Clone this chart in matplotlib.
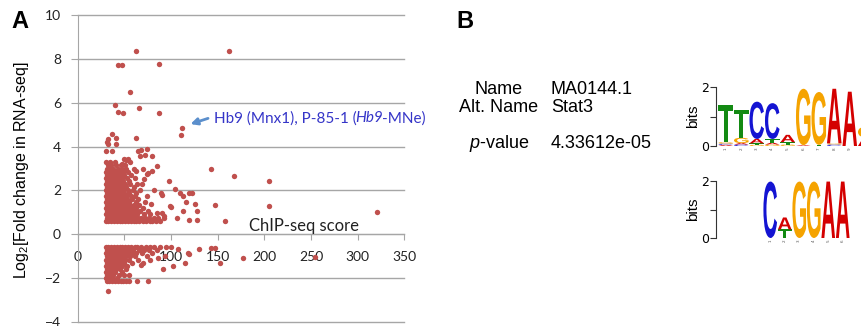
import numpy as np
import matplotlib.pyplot as plt
from matplotlib.textpath import TextPath
from matplotlib.patches import PathPatch
from matplotlib.font_manager import FontProperties
from matplotlib.transforms import Affine2D

plt.rcParams['mathtext.fontset'] = 'custom'
plt.rcParams['mathtext.rm'] = 'Liberation Sans'
plt.rcParams['mathtext.it'] = 'Liberation Sans:italic'

# ---- panel A data (ChIP-seq score, log2 fold change) ----
up_sparse = [(63, 8.35), (162.5, 8.35), (43, 7.74), (48, 7.74), (87.5, 7.76), (56, 6.49),
             (39.6, 5.88), (43.6, 5.59), (48.2, 5.52), (65.4, 5.76), (87.5, 5.52), (112, 4.83),
             (111, 4.51), (36.8, 4.57), (32, 4.35), (31, 4.2), (32, 4.1), (41, 4.4), (41.5, 4.1),
             (62, 4.4), (30.4, 3.81), (36.8, 3.78), (65, 3.81), (68, 3.83), (74, 3.87), (72.5, 3.6),
             (80, 3.58), (66.4, 3.57), (49.6, 3.43), (51.5, 3.4), (54, 3.42), (47, 3.2), (85, 3.1),
             (80, 2.87), (74.6, 2.77), (142.5, 2.96), (168, 2.68), (204.6, 2.42), (97.5, 2.42),
             (104, 2.06), (109.6, 1.9), (112.5, 1.75), (119, 1.87), (122.5, 1.87), (81.8, 2.03),
             (89, 1.9), (125.4, 1.4), (116, 1.46), (146.8, 1.31), (204.6, 1.27), (321, 1.0),
             (157.5, 0.59), (128.2, 1.08), (128, 0.64), (119, 0.64), (112.5, 1.07), (106.8, 0.73),
             (99, 1.27), (100.5, 1.22), (68.6, 2.27), (75.7, 2.8), (74, 1.74), (90, 1.78), (79, 1.37),
             (84.6, 0.95), (90, 0.98), (92, 0.85), (71, 2.5), (70, 3.0), (63, 2.9)]

up_rows_y = [0.62, 0.76, 0.90, 1.04, 1.18, 1.32, 1.46, 1.60, 1.74, 1.88,
             2.02, 2.16, 2.30, 2.44, 2.58, 2.72, 2.86, 3.00, 3.16, 3.30]
up_rows_x = [
    [30, 33, 36, 39, 42, 45, 48, 51, 54, 57, 60, 63, 66, 70, 73, 77, 80, 84, 88],
    [31, 34, 37, 40, 43, 46, 49, 52, 55, 58, 61, 65, 68, 72, 76, 82, 86, 92],
    [30, 33, 36, 39, 42, 45, 48, 51, 54, 57, 60, 64, 71, 78],
    [31, 34, 37, 40, 43, 46, 49, 52, 55, 59, 62, 67, 75],
    [30, 33, 36, 39, 42, 45, 48, 51, 54, 58, 63, 70],
    [31, 34, 37, 40, 43, 46, 49, 52, 56, 60, 66],
    [30, 33, 36, 39, 42, 45, 48, 51, 55, 62, 72],
    [31, 34, 37, 40, 43, 46, 49, 53, 58, 65],
    [30, 33, 36, 39, 42, 45, 48, 52, 57, 61],
    [31, 34, 37, 40, 43, 46, 50, 55, 63],
    [30, 33, 36, 39, 42, 45, 49, 54, 59, 67],
    [31, 34, 37, 40, 43, 47, 52, 60],
    [30, 33, 36, 39, 42, 46, 51, 56, 64],
    [31, 34, 37, 40, 44, 49, 55],
    [30, 33, 36, 39, 42, 47, 53, 61],
    [31, 34, 37, 41, 45, 50, 57],
    [30, 33, 37, 40, 44, 49, 54],
    [31, 35, 38, 43, 48, 52, 60],
    [32, 36, 41, 46, 51],
    [30, 35, 40, 56],
]

down_sparse = [(32, -2.6), (91.8, -1.57), (102.5, -1.45), (115, -1.31), (119, -0.91),
               (129.6, -0.69), (142.5, -0.62), (146.8, -0.62), (153, -1.3), (177.5, -1.1),
               (254.6, -1.04), (107.5, -0.69), (118, -0.85), (93.5, -1.0), (86, -1.1),
               (78, -1.2), (68, -1.4)]

down_rows_y = [-0.60, -0.74, -0.88, -1.02, -1.16, -1.30, -1.44, -1.58, -1.72, -1.86, -2.00, -2.14]
down_rows_x = [
    [30, 33, 36, 39, 42, 45, 48, 51, 54, 57, 61, 64, 68, 73, 78, 82, 88, 95, 100],
    [31, 34, 37, 40, 43, 46, 49, 52, 55, 59, 66, 71, 76, 85],
    [30, 33, 36, 39, 42, 45, 48, 51, 54, 58, 63, 69, 80],
    [31, 34, 37, 40, 43, 46, 49, 52, 56, 61, 74],
    [30, 33, 36, 39, 42, 45, 48, 51, 55, 65],
    [31, 34, 37, 40, 43, 46, 50, 58, 70],
    [30, 33, 36, 39, 42, 47, 53],
    [31, 34, 37, 41, 45, 52],
    [30, 33, 36, 40, 48],
    [31, 34, 38, 44, 50, 55],
    [30, 33, 37, 42],
    [31, 34, 37, 40, 43, 46, 49, 52, 55, 64, 75],
]

xticks = [0, 50, 100, 150, 200, 250, 300, 350]
yticks = [-4, -2, 0, 2, 4, 6, 8, 10]

# ---- panel B data (sequence logos, bits per letter, stacked bottom -> top) ----
logo1 = [
    [('A', 0.04), ('C', 0.04), ('G', 0.05), ('T', 1.28)],
    [('C', 0.05), ('A', 0.05), ('G', 0.18), ('T', 0.95)],
    [('G', 0.04), ('T', 0.05), ('A', 0.15), ('C', 1.27)],
    [('G', 0.05), ('A', 0.06), ('T', 0.13), ('C', 1.22)],
    [('G', 0.05), ('T', 0.08), ('A', 0.25)],
    [('A', 0.03), ('G', 1.92)],
    [('T', 0.04), ('G', 1.80)],
    [('C', 0.05), ('G', 0.04), ('A', 1.86)],
    [('A', 1.85)],
    [('A', 0.30), ('G', 0.35)],
]
logo2 = [
    [('C', 1.98)],
    [('T', 0.30), ('A', 0.42)],
    [('G', 1.98)],
    [('G', 1.98)],
    [('A', 1.98)],
    [('A', 1.98)],
]
base_colors = {'A': '#d40000', 'C': '#1414d2', 'G': '#f5a300', 'T': '#138a13'}

W, H = 862, 326


def box(l, t, r, b):
    return [l / W, 1 - b / H, (r - l) / W, (b - t) / H]


fig = plt.figure(figsize=(8.62, 3.26), dpi=100)

# ---------------- panel A ----------------
ax = fig.add_axes(box(77.7, 15.3, 404.3, 321.7))
ax.set_xlim(0, 350)
ax.set_ylim(-4, 10)
grey = '#a6a6a6'
for yv in yticks:
    ax.axhline(yv, color=grey, lw=1, zorder=0, clip_on=False)

px, py = [], []
for x, y in up_sparse + down_sparse:
    px.append(x)
    py.append(y)
for yv, xs in zip(up_rows_y + down_rows_y, up_rows_x + down_rows_x):
    for x in xs:
        px.append(x)
        py.append(yv)
ax.scatter(px, py, s=15, color='#c0504d', linewidths=0, zorder=3)

for s in ['top', 'right']:
    ax.spines[s].set_visible(False)
ax.spines['left'].set_color(grey)
ax.spines['bottom'].set_position(('data', 0))
ax.spines['bottom'].set_color(grey)
ax.set_xticks(xticks)
ax.set_yticks(yticks)
ax.tick_params(axis='y', direction='out', length=5, color=grey, pad=7, labelsize=10)
ax.tick_params(axis='x', direction='out', length=4, color=grey, pad=8, labelsize=10)
for lab in ax.get_xticklabels() + ax.get_yticklabels():
    lab.set_family('Lato')
    lab.set_color('#222222')

ax.text(242, 0.37, 'ChIP-seq score', fontsize=12, family='Lato', ha='center', va='center',
        color='#222222')
ax.annotate('', xy=(118, 4.99), xytext=(142.5, 5.33),
            arrowprops=dict(arrowstyle='-|>', color='#5b8fcc', lw=2, mutation_scale=10))

# blue label in three pieces so that "Hb9" can be italic
renderer = fig.canvas.get_renderer()
xpos = 146
for piece, style in [('Hb9 (Mnx1), P-85-1 (', 'normal'), ('Hb9', 'italic'), ('-MNe)', 'normal')]:
    t = ax.text(xpos, 5.3, piece, fontsize=11, family='Lato', style=style, color='#3535c8',
                va='center', ha='left', clip_on=False)
    bb = t.get_window_extent(renderer)
    xpos = ax.transData.inverted().transform((bb.x1 - 1, bb.y0))[0]

fig.text(22 / W, 1 - 170 / H, 'Log$_2$[Fold change in RNA-seq]', rotation=90,
         fontsize=11.5, family='Liberation Sans', ha='center', va='center')
fig.text(20 / W, 1 - 21 / H, 'A', fontsize=17, family='Liberation Sans', weight='bold',
         ha='center', va='center')

# ---------------- panel B ----------------
fig.text(465 / W, 1 - 22 / H, 'B', fontsize=17, family='Liberation Sans', weight='bold',
         ha='center', va='center')
lab_kw = dict(fontsize=13, family='Liberation Sans', va='center')
fig.text(499 / W, 1 - 90 / H, 'Name', ha='center', **lab_kw)
fig.text(499 / W, 1 - 107 / H, 'Alt. Name', ha='center', **lab_kw)
fig.text(499 / W, 1 - 143 / H, '$p$-value', ha='center', **lab_kw)
fig.text(551 / W, 1 - 90 / H, 'MA0144.1', ha='left', **lab_kw)
fig.text(551 / W, 1 - 107 / H, 'Stat3', ha='left', **lab_kw)
fig.text(551 / W, 1 - 143 / H, '4.33612e-05', ha='left', **lab_kw)

fp = FontProperties(family='Liberation Sans', weight='bold')


def draw_letter(a, ch, x, y, w, h):
    tp = TextPath((0, 0), ch, size=1, prop=fp)
    e = tp.get_extents()
    tr = Affine2D().translate(-e.x0, -e.y0).scale(w / e.width, h / e.height).translate(x, y)
    a.add_patch(PathPatch(tr.transform_path(tp), color=base_colors[ch], lw=0, clip_on=False))


def logo_axes(rect, columns, xlim):
    la = fig.add_axes(rect)
    la.set_xlim(*xlim)
    la.set_ylim(0, 2)
    for s in ['top', 'right', 'bottom']:
        la.spines[s].set_visible(False)
    la.spines['left'].set_bounds(0, 2)
    la.spines['left'].set_color('#333333')
    la.set_xticks([])
    la.set_yticks([0, 1, 2])
    la.set_yticklabels(['0', '', '2'])
    la.tick_params(axis='y', length=4, width=0.8, pad=1, labelsize=9, color='#333333')
    la.set_ylabel('bits', fontsize=11, family='Liberation Sans', labelpad=1)
    la.patch.set_alpha(0)
    for i, col in enumerate(columns):
        base = 0
        for ch, hgt in col:
            draw_letter(la, ch, i + 0.53, base, 0.94, hgt)
            base += hgt
        la.text(i + 1, -0.06, str(i + 1), rotation=90, fontsize=3, color='#555555',
                ha='center', va='top', clip_on=False)
    return la


# logo 1: columns 15.5 px wide, first column starting at px 718
logo_axes(box(716, 87.3, 716 + 10.2 * 15.5, 146), logo1, (0.37, 10.57))
# logo 2: columns 14.5 px wide, first column starting at px 763
logo_axes(box(716, 181, 716 + 9.4 * 14.5, 238), logo2, (-2.74, 6.66))

fig.savefig('out.png', dpi=100)
